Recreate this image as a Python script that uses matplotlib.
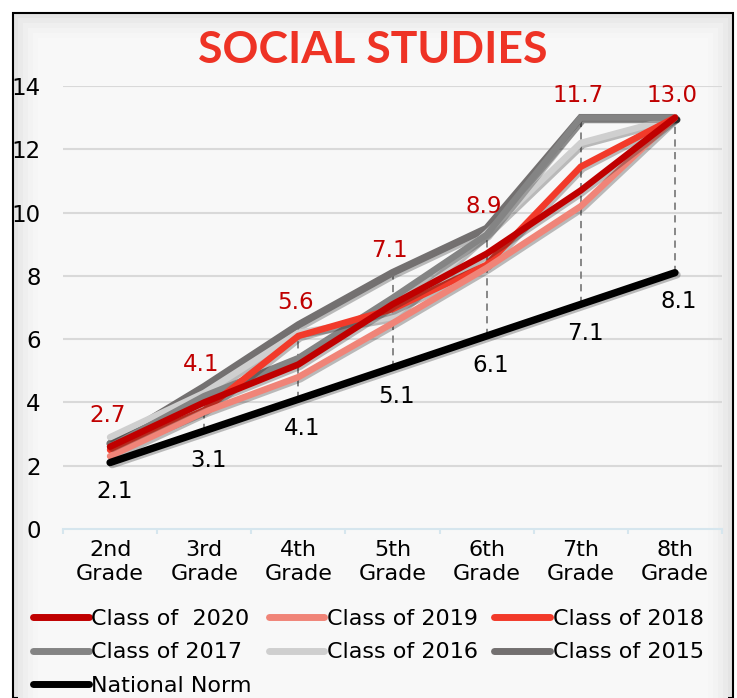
import matplotlib
matplotlib.use("Agg")
from matplotlib import pyplot as plt
from matplotlib.patches import Rectangle
import matplotlib.patheffects as pe

grades = ["2nd\nGrade", "3rd\nGrade", "4th\nGrade", "5th\nGrade", "6th\nGrade", "7th\nGrade", "8th\nGrade"]

class_2020 = [2.6, 4.0, 5.2, 7.1, 8.7, 10.7, 13.0]
class_2019 = [2.3, 3.7, 4.8, 6.5, 8.25, 10.2, 13.0]
class_2018 = [2.5, 3.75, 6.1, 6.95, 8.35, 11.45, 13.0]
class_2017 = [2.6, 4.2, 5.4, 7.3, 9.3, 13.0, 13.0]
class_2016 = [2.9, 4.3, 6.2, 6.7, 9.35, 12.2, 13.0]
class_2015 = [2.7, 4.5, 6.45, 8.1, 9.5, 13.0, 13.0]
national_norm = [2.1, 3.1, 4.1, 5.1, 6.1, 7.1, 8.1]
top_labels = [2.7, 4.1, 5.6, 7.1, 8.9, 11.7, 13.0]

W, H = 737, 698
plt.rcParams['font.family'] = ['DejaVu Sans']

fig = plt.figure(figsize=(W / 100, H / 100), dpi=100)
fig.patch.set_facecolor('white')


def px(x, y):
    return x / W, 1 - y / H


# bevelled frame
x0, y0 = px(13, 698)
fig.add_artist(Rectangle((x0, y0), 720 / W, 685 / H, transform=fig.transFigure,
                         facecolor='#E4E4E4', edgecolor='black', lw=1.5, zorder=0))
shades = ['#EAEAEA', '#EFEFEF', '#F3F3F3', '#F6F6F6', '#F8F8F8']
for i, c in enumerate(shades):
    ins = 5 + i * 5
    a, b = px(13 + ins, 698)
    fig.add_artist(Rectangle((a, b), (720 - 2 * ins) / W, (685 - ins) / H,
                             transform=fig.transFigure, facecolor=c,
                             edgecolor='none', zorder=0))

ax = fig.add_axes([63 / W, 1 - 529 / H, 659 / W, 443 / H])
ax.set_facecolor('none')

x = list(range(len(grades)))
series = [
    ("Class of  2020", class_2020, '#C00000', 4.7),
    ("Class of 2019", class_2019, '#F08478', 4.7),
    ("Class of 2018", class_2018, '#F23A2A', 4.7),
    ("Class of 2017", class_2017, '#848484', 4.7),
    ("Class of 2016", class_2016, '#CFCFCF', 4.7),
    ("Class of 2015", class_2015, '#737070', 5.3),
]

shadow = [pe.SimpleLineShadow(offset=(1.5, -1.5), alpha=0.25, shadow_color='black'), pe.Normal()]

# drop lines
tops = [max(vals) for vals in zip(*[s[1] for s in series])]
ax.vlines(x, national_norm, tops, colors='#7F7F7F', linestyles=(0, (4, 3)), lw=1.3, zorder=1)

handles = {}
for name, vals, col, lw in series[::-1]:
    ln, = ax.plot(x, vals, color=col, lw=lw, solid_capstyle='round',
                  solid_joinstyle='miter', path_effects=shadow, zorder=3, label=name)
    handles[name] = ln
nn, = ax.plot(x, national_norm, color='black', lw=5.3, solid_capstyle='round',
              path_effects=shadow, zorder=4, label='National Norm')
handles['National Norm'] = nn

for xi, v, t in zip(x, tops, top_labels):
    ax.annotate(f"{t:.1f}", (xi, v), xytext=(-2, 16), textcoords='offset points',
                ha='center', va='center', color='#C00000', fontsize=16.5)
for xi, v in zip(x, national_norm):
    ax.annotate(f"{v:.1f}", (xi, v), xytext=(3, -21), textcoords='offset points',
                ha='center', va='center', color='black', fontsize=16.5)

ax.set_xlim(-0.5, len(grades) - 0.5)
ax.set_ylim(0, 14)
ax.set_yticks(range(0, 15, 2))
ax.set_xticks(x)
ax.set_xticklabels(grades, fontsize=16, linespacing=1.25)
ax.tick_params(axis='x', length=0, pad=8)
ax.tick_params(axis='y', length=0, pad=16, labelsize=16.5)
ax.grid(axis='y', color='#D9D9D9', lw=1.5)
ax.set_axisbelow(True)
for s in ['top', 'right', 'left']:
    ax.spines[s].set_visible(False)
ax.spines['bottom'].set_color('#D6E6EE')
ax.spines['bottom'].set_linewidth(1.5)
ax.spines['bottom'].set_zorder(2)
# category separators
ax.vlines([i - 0.5 for i in range(len(grades) + 1)], -0.17, 0, colors='#D6E6EE',
          lw=1.5, clip_on=False)

ax.yaxis.get_gridlines()[0].set_visible(False)

fig.text(373 / W, 1 - 50 / H, "SOCIAL STUDIES", ha='center', va='center',
         color='#EE3325', fontsize=32, fontweight='bold', family=['Lato', 'DejaVu Sans'])

order = ["Class of  2020", "Class of 2017", "National Norm", "Class of 2019",
         "Class of 2016", "Class of 2018", "Class of 2015"]
leg = fig.legend([handles[k] for k in order], order, ncol=3, loc='upper left',
                 bbox_to_anchor=(22 / W, 1 - 598 / H), frameon=False, fontsize=16,
                 handlelength=2.5, handletextpad=0.12, columnspacing=0.75,
                 labelspacing=0.6, borderpad=0)
for h in leg.legend_handles:
    h.set_path_effects([])
    h.set_linewidth(5)

fig.savefig("out.png", dpi=100, facecolor=fig.get_facecolor())
